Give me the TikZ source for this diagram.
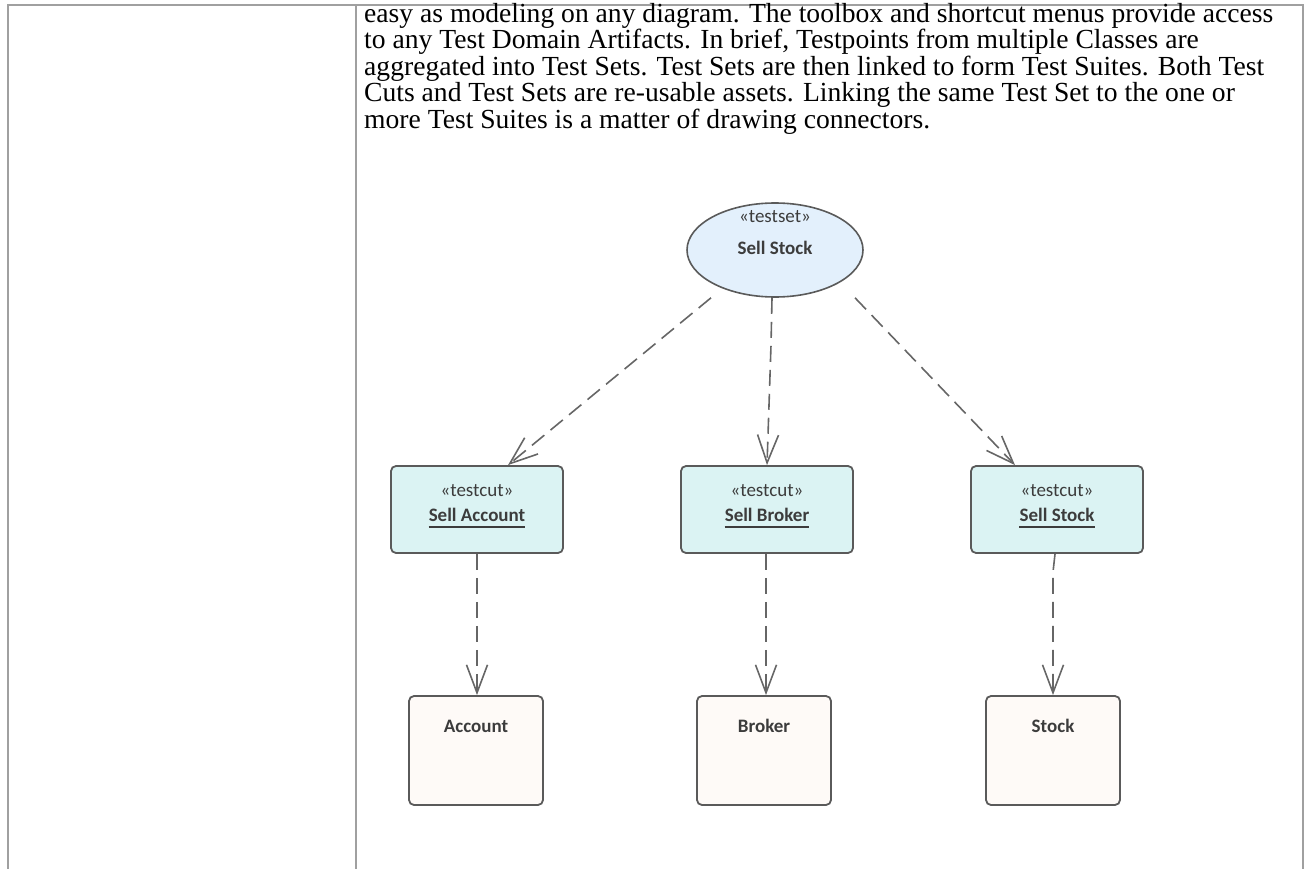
\documentclass[tikz,border=0pt]{standalone}
\usepackage{fontspec}
\setmainfont{Liberation Serif}
\newfontfamily\diafont{Carlito}
\usetikzlibrary{arrows.meta,shapes.geometric}
\definecolor{tblline}{HTML}{A0A0A0}
\definecolor{nodeline}{HTML}{5A5A5A}
\definecolor{setfill}{HTML}{E3F0FC}
\definecolor{cutfill}{HTML}{DBF3F3}
\definecolor{clsfill}{HTML}{FEFAF7}
\definecolor{txtcol}{HTML}{3C3C3C}
\definecolor{arrcol}{HTML}{666666}
\tikzset{
  paraline/.style={anchor=base west, inner sep=0pt, font=\fontsize{27.6}{27.6}\selectfont},
  setnode/.style={ellipse, draw=nodeline, line width=1.6pt, fill=setfill, minimum width=176pt, minimum height=94pt, inner sep=0pt},
  cutnode/.style={rectangle, rounded corners=5pt, draw=nodeline, line width=1.8pt, fill=cutfill, minimum width=172pt, minimum height=87pt, inner sep=0pt},
  clsnode/.style={rectangle, rounded corners=5pt, draw=nodeline, line width=1.8pt, fill=clsfill, minimum width=134pt, minimum height=109pt, inner sep=0pt},
  stereo/.style={inner sep=0pt, text=txtcol, font=\diafont\fontsize{19}{19}\selectfont},
  nametxt/.style={inner sep=0pt, text=txtcol, font=\diafont\bfseries\fontsize{19}{19}\selectfont},
  dep/.style={draw=arrcol, line width=1.6pt, dash pattern=on 16pt off 8pt, -{Straight Barb[length=28pt,width=21pt,line width=1.6pt]}},
  ulinestyle/.style={draw=txtcol, line width=1.4pt}
}
\begin{document}
\begin{tikzpicture}[x=1pt,y=-1pt]
\useasboundingbox (0,0) rectangle (1305,869);
% table lines
\coordinate (tl) at (8,5);
\coordinate (tr) at (1303,5);
\coordinate (bl) at (8,869);
\coordinate (br) at (1303,869);
\coordinate (dt) at (356,5);
\coordinate (db) at (356,869);
\draw[tblline, line width=1.8pt] (bl) -- (tl) -- (tr) -- (br);
\draw[tblline, line width=1.8pt] (dt) -- (db);
% paragraph
\node[paraline] (p1) at (364,22.5) {easy as modeling on any diagram. The toolbox and shortcut menus provide access};
\node[paraline] (p2) at (364,49) {to any Test Domain Artifacts. In brief, Testpoints from multiple Classes are};
\node[paraline] (p3) at (364,75.5) {aggregated into Test Sets. Test Sets are then linked to form Test Suites. Both Test};
\node[paraline] (p4) at (364,102) {Cuts and Test Sets are re-usable assets. Linking the same Test Set to the one or};
\node[paraline] (p5) at (364,128.5) {more Test Suites is a matter of drawing connectors.};
% testset
\node[setnode] (set) at (775,250) {};
\node[stereo] (setst) at (775,217) {«testset»};
\node[nametxt] (setnm) at (775,248) {Sell Stock};
% testcuts
\node[cutnode] (cutA) at (477,509.5) {};
\node[stereo] (cutAst) at (477,491) {«testcut»};
\node[nametxt] (cutAnm) at (477,515) {Sell Account};
\draw[ulinestyle] ([yshift=-12pt]cutAnm.west) -- ([yshift=-12pt]cutAnm.east);
\node[cutnode] (cutB) at (767,509.5) {};
\node[stereo] (cutBst) at (767,491) {«testcut»};
\node[nametxt] (cutBnm) at (767,515) {Sell Broker};
\draw[ulinestyle] ([yshift=-12pt]cutBnm.west) -- ([yshift=-12pt]cutBnm.east);
\node[cutnode] (cutS) at (1057,509.5) {};
\node[stereo] (cutSst) at (1057,491) {«testcut»};
\node[nametxt] (cutSnm) at (1057,515) {Sell Stock};
\draw[ulinestyle] ([yshift=-12pt]cutSnm.west) -- ([yshift=-12pt]cutSnm.east);
% classes
\node[clsnode] (clsA) at (476,750.5) {};
\node[nametxt] (clsAnm) at (476,726) {Account};
\node[clsnode] (clsB) at (764,750.5) {};
\node[nametxt] (clsBnm) at (764,726) {Broker};
\node[clsnode] (clsS) at (1053,750.5) {};
\node[nametxt] (clsSnm) at (1053,726) {Stock};
% connectors
\coordinate (bendM) at (771,345);
\coordinate (bendS) at (1053,572);
\draw[dep] (set.south -| 711,0) -- (cutA.north -| 508,0);
\draw[dep] (set.south -| 772,0) -- (bendM) -- (cutB.north);
\draw[dep] (set.south -| 855,0) -- (cutS.north -| 1015,0);
\draw[dep] (cutA.south) -- (clsA.north -| cutA.south);
\draw[dep] (cutB.south -| 766,0) -- (clsB.north -| 766,0);
\draw[dep] (cutS.south -| 1055,0) -- (bendS) -- (clsS.north);
\end{tikzpicture}
\end{document}
